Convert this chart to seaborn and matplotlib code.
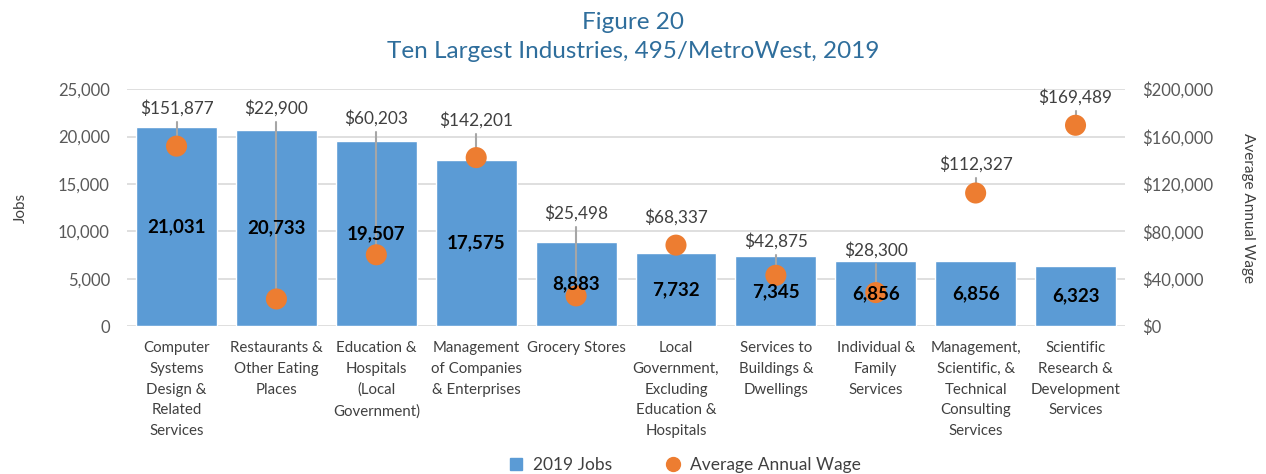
import numpy as np
import pandas as pd
import matplotlib
matplotlib.use("Agg")
import matplotlib.pyplot as plt
from matplotlib.lines import Line2D
from matplotlib.ticker import FuncFormatter
import seaborn as sns

# data
industries = [
    "Computer\nSystems\nDesign &\nRelated\nServices",
    "Restaurants &\nOther Eating\nPlaces",
    "Education &\nHospitals\n(Local\nGovernment)",
    "Management\nof Companies\n& Enterprises",
    "Grocery Stores",
    "Local\nGovernment,\nExcluding\nEducation &\nHospitals",
    "Services to\nBuildings &\nDwellings",
    "Individual &\nFamily\nServices",
    "Management,\nScientific, &\nTechnical\nConsulting\nServices",
    "Scientific\nResearch &\nDevelopment\nServices",
]
jobs = [21031, 20733, 19507, 17575, 8883, 7732, 7345, 6856, 6856, 6323]
wages = [151877, 22900, 60203, 142201, 25498, 68337, 42875, 28300, 112327, 169489]

# where the wage labels were dragged to (in wage units), and which get a leader line
label_y = [184000, 184000, 175500, 173800, 95400, 92000, 71700, 64100, 136700, 193300]
leader = [True, True, True, True, True, False, True, True, True, True]

df = pd.DataFrame({"industry": industries, "jobs": jobs, "wage": wages})
pos = np.arange(len(df))

sns.set_theme(style="white")
plt.rcParams["font.family"] = ["Lato", "DejaVu Sans"]

bar_color = "#5B9BD5"
dot_color = "#ED7D31"
txt = "#404040"

fig = plt.figure(figsize=(12.66, 4.74), dpi=100)
ax = fig.add_axes([0.100, 0.312, 0.789, 0.500])

sns.barplot(data=df, x="industry", y="jobs", color=bar_color, saturation=1,
            width=0.81, ax=ax, zorder=2)
ax.set_xlim(-0.5, len(df) - 0.5)
ax.set_ylim(0, 25000)
ax.set_yticks(range(0, 25001, 5000))
ax.yaxis.set_major_formatter(FuncFormatter(lambda v, p: f"{v:,.0f}"))
ax.grid(axis="y", color="#D9D9D9", linewidth=1.2, zorder=0)
ax.set_axisbelow(True)
for s in ax.spines.values():
    s.set_visible(False)
ax.tick_params(axis="y", length=0, pad=12, labelsize=12, labelcolor="#595959")
ax.tick_params(axis="x", length=0, pad=11)
ax.set_xticks(pos)
ax.set_xticklabels(df["industry"], fontsize=10.8, color=txt, linespacing=1.6, va="top")
ax.set_xlabel("")
ax.set_ylabel("Jobs", fontsize=11, color=txt, labelpad=22)

ax2 = ax.twinx()
ax2.set_ylim(0, 200000)
ax2.set_yticks(range(0, 200001, 40000))
ax2.yaxis.set_major_formatter(FuncFormatter(lambda v, p: f"${v:,.0f}"))
for s in ax2.spines.values():
    s.set_visible(False)
ax2.tick_params(axis="y", length=0, pad=12, labelsize=12, labelcolor="#595959")
ax2.set_ylabel("Average Annual Wage", fontsize=11, color=txt, rotation=270, labelpad=30)

# leader lines
for i, (w, ly, ld) in enumerate(zip(wages, label_y, leader)):
    if ld:
        ax2.plot([i, i], [ly - 12000, w], color="#A6A6A6", linewidth=1.5, zorder=2)

sns.scatterplot(x=pos, y=wages, ax=ax2, color=dot_color, s=230, edgecolor="none",
                zorder=3, legend=False)

for i, (w, ly) in enumerate(zip(wages, label_y)):
    ax2.text(i, ly, f"${w:,}", ha="center", va="center", fontsize=12.4, color=txt, zorder=4)

# job labels on top of the dots
for i, j in enumerate(jobs):
    ax2.text(i, j / 2, f"{j:,}", transform=ax.transData, ha="center", va="center",
             fontsize=13.5, fontweight="bold", color="black", zorder=5)

fig.suptitle("Figure 20\nTen Largest Industries, 495/MetroWest, 2019", y=0.975,
             fontsize=17.5, color="#2F6E9C", linespacing=1.5)

handles = [
    Line2D([], [], marker="s", linestyle="none", markersize=9, color=bar_color, label="2019 Jobs"),
    Line2D([], [], marker="o", linestyle="none", markersize=10, color=dot_color,
           label="Average Annual Wage"),
]
fig.legend(handles=handles, loc="lower center", bbox_to_anchor=(0.537, -0.03), ncol=2,
           frameon=False, fontsize=12.5, handletextpad=0.0, columnspacing=2.5,
           labelcolor=txt)

fig.savefig("out.png", dpi=100)
